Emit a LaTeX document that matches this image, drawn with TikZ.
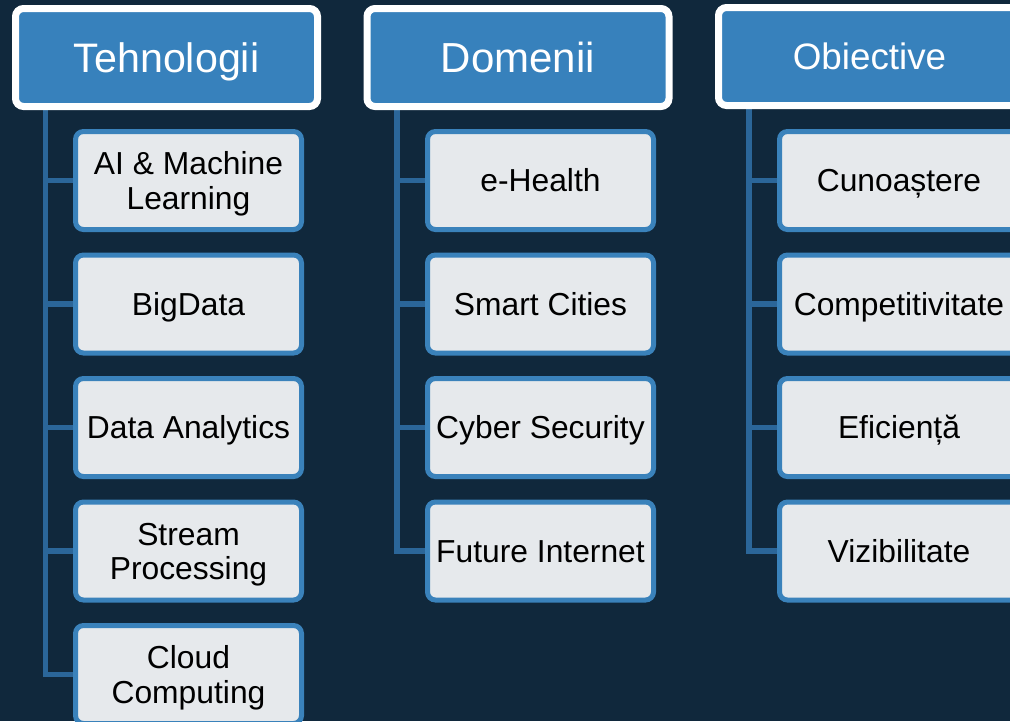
\documentclass[tikz,border=0pt]{standalone}
\usepackage{fontspec}
\setmainfont{Liberation Sans}
\usetikzlibrary{backgrounds}
\definecolor{bg}{RGB}{16,40,60}
\definecolor{hdrblue}{RGB}{55,129,188}
\definecolor{kidborder}{RGB}{58,130,187}
\definecolor{kidfill}{RGB}{230,233,236}
\definecolor{connblue}{RGB}{43,102,153}
\tikzset{
  hdr/.style={draw=white, line width=7pt, fill=hdrblue, rounded corners=8pt,
    minimum width=302pt, minimum height=98pt, inner sep=0pt, text=white,
    font=\fontsize{42}{50}\selectfont, text height=30.1pt, text depth=0pt},
  hdrsmall/.style={hdr, font=\fontsize{36.8}{44}\selectfont, text height=26.3pt},
  kid/.style={draw=kidborder, line width=5pt, fill=kidfill, rounded corners=8pt,
    minimum width=226pt, minimum height=98pt, inner sep=0pt, text=black, align=center,
    font=\fontsize{31.8}{34.5}\selectfont, text height=22.8pt, text depth=0pt},
  kidtwo/.style={kid, text height=57.3pt, text depth=0pt},
  kidwide/.style={kid, minimum width=239pt},
  conn/.style={draw=connblue, line width=5.5pt}
}
\begin{document}
\begin{tikzpicture}[x=1pt,y=-1pt]
\useasboundingbox (0,0) rectangle (1010,721);
% coordinates for the trunks
\coordinate (t1) at (45.5,106);
\coordinate (t2) at (397,106);
\coordinate (t3) at (749,106);
% headers
\node[hdr, font=\fontsize{41.2}{50}\selectfont, text height=29.5pt] (h1) at (166.5,57.5) {Tehnologii};
\node[hdr] (h2) at (518,57.5) {Domenii};
\node[hdrsmall] (h3) at (869.5,56.5) {Obiective};
% children column 1
\node[kidtwo] (a1) at (188.5,180.5) {AI \& Machine\\Learning};
\node[kid] (a2) at (188.5,304) {BigData};
\node[kid] (a3) at (188.5,427.5) {Data Analytics};
\node[kidtwo] (a4) at (188.5,551) {Stream\\Processing};
\node[kidtwo] (a5) at (188.5,674.5) {Cloud\\Computing};
% children column 2
\node[kid] (b1) at (540.5,180.5) {e-Health};
\node[kid] (b2) at (540.5,304) {Smart Cities};
\node[kid] (b3) at (540.5,427.5) {Cyber Security};
\node[kid] (b4) at (540.5,551) {Future Internet};
% children column 3
\node[kidwide] (c1) at (899,180.5) {Cunoaștere};
\node[kidwide] (c2) at (899,304) {Competitivitate};
\node[kidwide] (c3) at (899,427.5) {Eficiență};
\node[kidwide] (c4) at (899,551) {Vizibilitate};
% connectors (behind boxes)
\begin{scope}[on background layer]
\fill[bg] (0,0) rectangle (1010,721);
\draw[conn] (t1) |- (a5.west);
\foreach \k in {a1,a2,a3,a4} { \draw[conn] (t1 |- \k.west) -- (\k.west); }
\draw[conn] (t2) |- (b4.west);
\foreach \k in {b1,b2,b3} { \draw[conn] (t2 |- \k.west) -- (\k.west); }
\draw[conn] (t3) |- (c4.west);
\foreach \k in {c1,c2,c3} { \draw[conn] (t3 |- \k.west) -- (\k.west); }
\end{scope}
\end{tikzpicture}
\end{document}
